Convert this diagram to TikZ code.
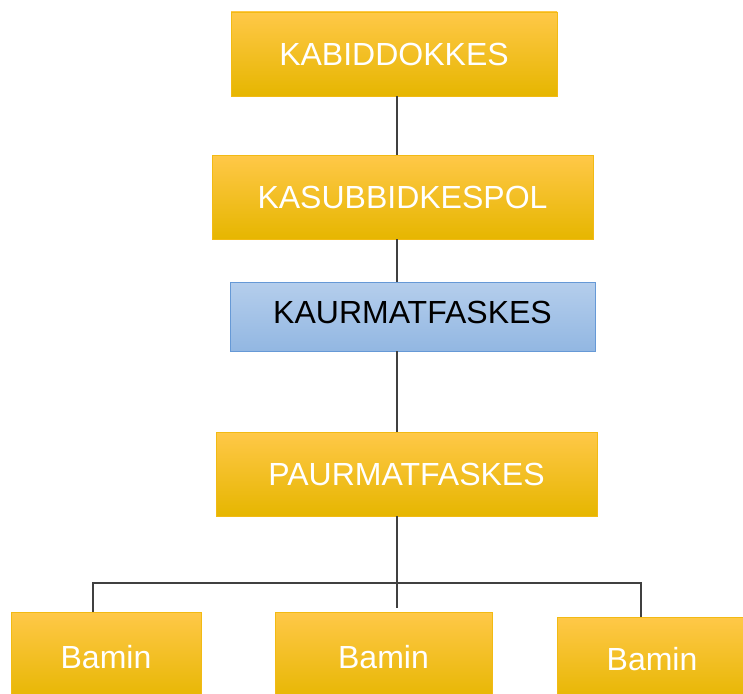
\documentclass[tikz,border=0pt]{standalone}
\usepackage{fontspec}
\setmainfont{Liberation Sans}
\begin{document}
\definecolor{goldtop}{RGB}{255,200,72}
\definecolor{goldmid}{RGB}{255,194,0}
\definecolor{goldbot}{RGB}{230,182,0}
\definecolor{goldedge}{RGB}{242,186,20}
\definecolor{bluetop}{RGB}{181,206,236}
\definecolor{bluemid}{RGB}{166,196,232}
\definecolor{bluebot}{RGB}{146,183,226}
\definecolor{blueedge}{RGB}{102,153,214}
\definecolor{wire}{RGB}{64,64,64}
\begin{tikzpicture}[x=1pt,y=-1pt,
  goldbox/.style={draw=goldedge,line width=0.8pt,top color=goldtop,middle color=goldmid,
    bottom color=goldbot,text=white,font=\fontsize{32}{38}\selectfont,inner sep=0pt},
  bluebox/.style={draw=blueedge,line width=0.8pt,top color=bluetop,middle color=bluemid,
    bottom color=bluebot,text=black,font=\fontsize{32}{38}\selectfont,inner sep=0pt},
  wireline/.style={draw=wire,line width=1.3pt}]
\useasboundingbox (0,0) rectangle (743,693);

% boxes of the chart
\node[goldbox,minimum width=326pt,minimum height=84pt] (kabid) at (394,54) {KABIDDOKKES};
\node[goldbox,minimum width=381pt,minimum height=84pt] (kasub) at (402.5,197) {KASUBBIDKESPOL};
\node[bluebox,minimum width=365pt,minimum height=69pt,text depth=8pt] (kaur) at (412.5,316.5) {KAURMATFASKES};
\node[goldbox,minimum width=381pt,minimum height=84pt] (paur) at (406.5,474) {PAURMATFASKES};
\node[goldbox,minimum width=190pt,minimum height=90pt] (baminA) at (106,657) {Bamin};
\node[goldbox,minimum width=217pt,minimum height=90pt] (baminB) at (383.5,657) {Bamin};
\node[goldbox,minimum width=190pt,minimum height=85pt] (baminC) at (652,659.5) {Bamin};

% connectors
\coordinate (spine) at (397,0);
\coordinate (busL) at (93,583);
\coordinate (busR) at (641,583);
\coordinate (stub) at (397,608);
\draw[wireline] (kabid.south -| spine) -- (kasub.north -| spine);
\draw[wireline] (kasub.south -| spine) -- (kaur.north -| spine);
\draw[wireline] (kaur.south -| spine) -- (paur.north -| spine);
\draw[wireline] (paur.south -| spine) -- (stub);
\draw[wireline] (busL |- baminA.north) -- (busL) -- (busR) -- (busR |- baminC.north);
\end{tikzpicture}
\end{document}
